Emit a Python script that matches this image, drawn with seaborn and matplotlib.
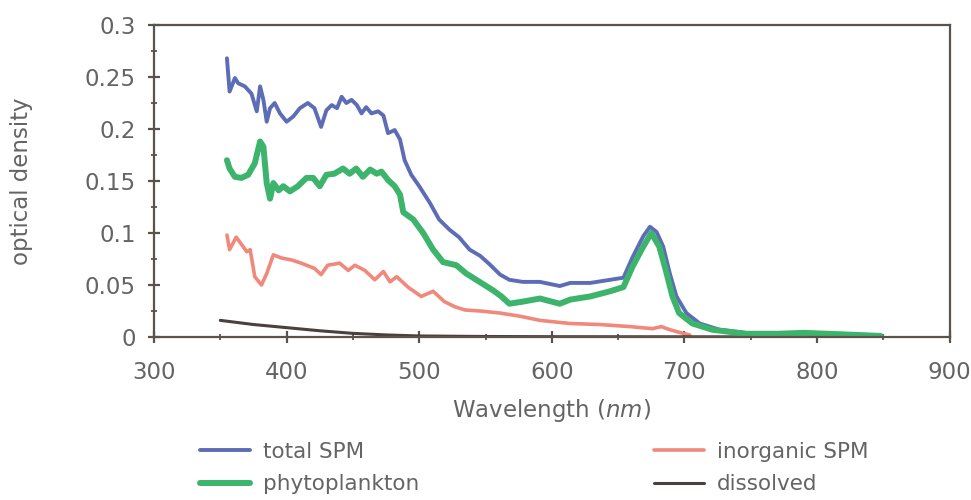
import numpy as np
import pandas as pd
import matplotlib
matplotlib.use('Agg')
import matplotlib.pyplot as plt
from matplotlib.ticker import MultipleLocator, FuncFormatter
import seaborn as sns

sns.set_style('white')
plt.rcParams['font.family'] = ['DejaVu Sans']
plt.rcParams['mathtext.fontset'] = 'dejavusans'

# ============================================================
# data (wavelength nm, optical density)
# ============================================================
total_wl = [355, 357, 361, 363.5, 368.5, 373.5, 377.5, 380, 382.5, 385, 387.5, 391, 395,
            400, 405, 410, 416, 421, 426, 430, 434, 438, 441.5, 445, 449, 453, 456.5,
            460, 464, 469, 473, 476.5, 481.5, 485.5, 489, 494, 500, 508, 515, 523, 530,
            538, 546, 553, 561, 568, 578, 591, 606, 614, 629, 644, 654, 661, 669, 674,
            679, 684, 689, 694, 701.5, 711.5, 726.5, 746.5, 766, 790, 810, 830, 848]
total_od = [0.268, 0.236, 0.249, 0.244, 0.241, 0.234, 0.217, 0.241, 0.228, 0.207, 0.220,
            0.225, 0.215, 0.207, 0.212, 0.220, 0.225, 0.220, 0.202, 0.218, 0.223, 0.220,
            0.231, 0.225, 0.228, 0.223, 0.215, 0.221, 0.215, 0.217, 0.213, 0.196, 0.199,
            0.190, 0.170, 0.156, 0.145, 0.129, 0.113, 0.103, 0.096, 0.084, 0.078, 0.070,
            0.060, 0.055, 0.053, 0.053, 0.049, 0.052, 0.052, 0.055, 0.057, 0.077, 0.097,
            0.106, 0.101, 0.087, 0.061, 0.039, 0.023, 0.013, 0.007, 0.004, 0.004, 0.004,
            0.003, 0.002, 0.001]

phyto_wl = [355, 357, 361, 366, 371, 376, 380, 382.5, 385, 387.5, 390, 394, 397.5, 402.5,
            408.5, 415, 420, 425, 430, 436, 442.5, 447.5, 452.5, 457.5, 463, 468, 471.5,
            476.5, 481.5, 485.5, 488, 495.5, 503, 510.5, 518, 528, 535.5, 545.5, 555.5,
            562, 568, 578, 591, 606, 614, 629, 644, 654, 661, 669, 675, 681, 686, 691,
            696, 706, 721, 746.5, 770, 790, 810, 830, 848]
phyto_od = [0.170, 0.162, 0.154, 0.153, 0.156, 0.167, 0.188, 0.183, 0.148, 0.133, 0.148,
            0.141, 0.145, 0.140, 0.145, 0.153, 0.153, 0.145, 0.156, 0.157, 0.162, 0.157,
            0.162, 0.154, 0.161, 0.157, 0.159, 0.151, 0.145, 0.137, 0.120, 0.113, 0.100,
            0.084, 0.072, 0.069, 0.061, 0.053, 0.045, 0.039, 0.032, 0.034, 0.037, 0.032,
            0.036, 0.039, 0.044, 0.048, 0.068, 0.087, 0.100, 0.087, 0.064, 0.039, 0.023,
            0.013, 0.007, 0.003, 0.003, 0.004, 0.003, 0.002, 0.001]

inorg_wl = [355, 357, 362, 366, 370, 372.5, 376, 381, 385, 390, 396, 404, 411, 421, 426,
            431, 440, 446.5, 451.5, 459, 466.5, 473, 478, 483, 491.5, 501.5, 510.5, 519,
            527, 534.5, 546, 561, 576, 591, 613.5, 636, 659, 676, 682.5, 689, 699, 704]
inorg_od = [0.098, 0.084, 0.096, 0.089, 0.082, 0.084, 0.058, 0.050, 0.061, 0.079, 0.076,
            0.074, 0.071, 0.066, 0.060, 0.069, 0.071, 0.064, 0.069, 0.064, 0.055, 0.063,
            0.053, 0.058, 0.048, 0.039, 0.044, 0.034, 0.029, 0.026, 0.025, 0.023, 0.020,
            0.016, 0.013, 0.012, 0.010, 0.008, 0.010, 0.007, 0.0035, 0.002]

dissolved_wl = [350, 375, 400, 425, 450, 475, 500, 550, 600, 700, 800, 850]
dissolved_od = [0.016, 0.012, 0.009, 0.006, 0.0035, 0.002, 0.001, 0.0005, 0.0003,
                0.0002, 0.0001, 0.0]

SERIES = [
    ('total SPM', total_wl, total_od, '#5d6cb6', 2.8),
    ('inorganic SPM', inorg_wl, inorg_od, '#f0897c', 2.6),
    ('dissolved', dissolved_wl, dissolved_od, '#4a403c', 2.2),
    ('phytoplankton', phyto_wl, phyto_od, '#3db46b', 4.3),
]
AXIS_COLOR = '#5a524c'
TEXT_COLOR = '#646464'
FS = 16.5
LEG_FS = 15.5

fig = plt.figure(figsize=(9.71, 5.0), dpi=100)
ax = fig.add_axes([0.1586, 0.326, 0.8194, 0.624])

lines = {}
for name, wl, od, color, lw in SERIES:
    sns.lineplot(x=wl, y=od, ax=ax, color=color, linewidth=lw, sort=False,
                 estimator=None, label=name, legend=False)
    lines[name] = ax.get_lines()[-1]

ax.set_xlim(300, 900)
ax.set_ylim(0, 0.3)
ax.xaxis.set_major_locator(MultipleLocator(100))
ax.xaxis.set_minor_locator(MultipleLocator(50))
ax.yaxis.set_major_locator(MultipleLocator(0.05))
ax.yaxis.set_minor_locator(MultipleLocator(0.025))
ax.yaxis.set_major_formatter(FuncFormatter(lambda v, p: f'{v:g}'))

for s in ax.spines.values():
    s.set_color(AXIS_COLOR)
    s.set_linewidth(1.6)
ax.tick_params(which='both', bottom=True, left=True, top=False, right=False)
ax.tick_params(which='major', direction='inout', length=8, width=1.6, color=AXIS_COLOR,
               labelsize=FS, labelcolor=TEXT_COLOR)
ax.tick_params(which='minor', direction='inout', length=5, width=1.3, color=AXIS_COLOR)
ax.tick_params(axis='x', which='major', pad=13)
ax.tick_params(axis='y', which='major', pad=9)

ax.set_xlabel('Wavelength ($\\mathit{nm}$)', fontsize=FS, color=TEXT_COLOR, labelpad=10)
ax.set_ylabel('optical density', fontsize=FS, color=TEXT_COLOR)
ax.yaxis.set_label_coords(-0.152, 0.5)

order = ['total SPM', 'phytoplankton', 'inorganic SPM', 'dissolved']
leg = fig.legend([lines[k] for k in order], order, ncol=2, loc='upper left',
                 bbox_to_anchor=(0.206, 0.117), frameon=False, fontsize=LEG_FS,
                 handlelength=2.33, handletextpad=0.6, columnspacing=10.9,
                 labelspacing=0.6, borderpad=0, borderaxespad=0)
for t in leg.get_texts():
    t.set_color(TEXT_COLOR)

fig.savefig('out.png', dpi=100, facecolor='white')
